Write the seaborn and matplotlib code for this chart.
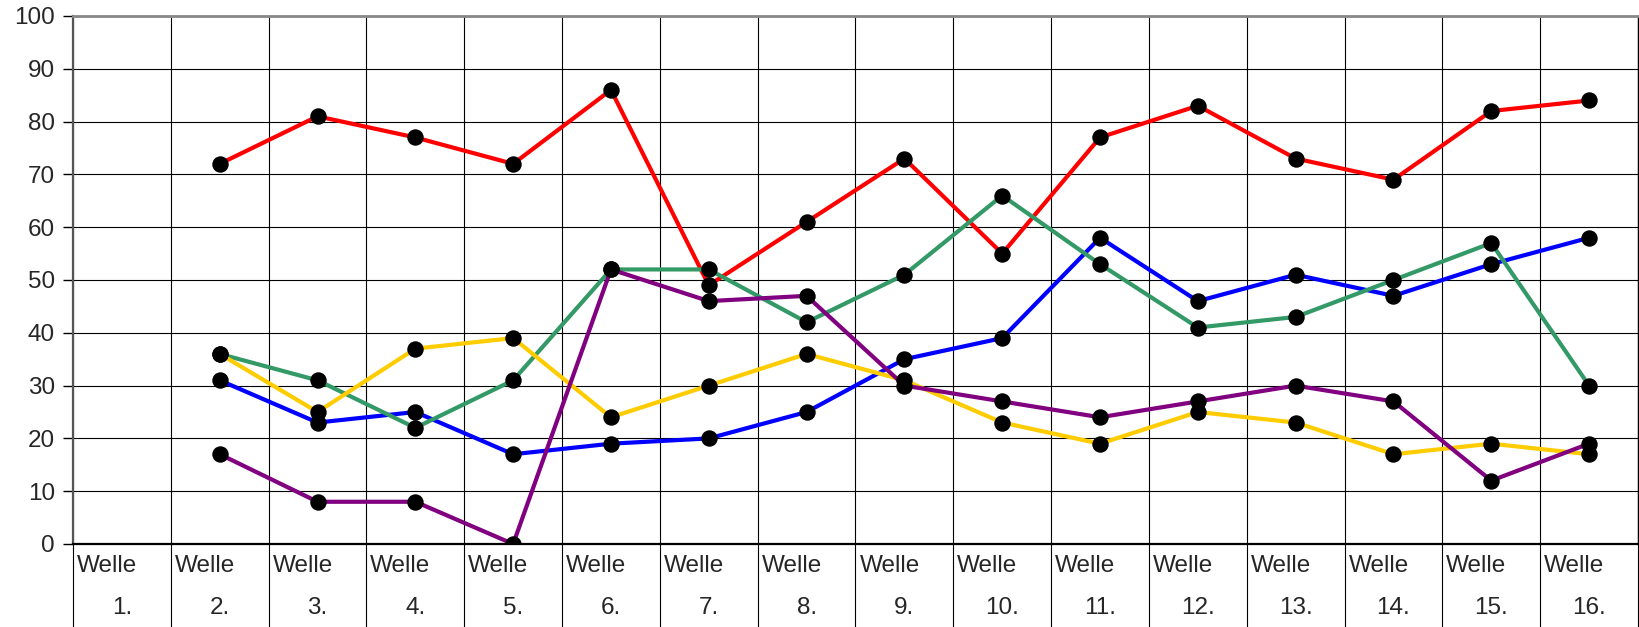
import seaborn as sns
import pandas as pd
import numpy as np
import matplotlib.pyplot as plt
from matplotlib.transforms import blended_transform_factory

waves = ["Welle 1.", "Welle 2.", "Welle 3.", "Welle 4.", "Welle 5.", "Welle 6.",
         "Welle 7.", "Welle 8.", "Welle 9.", "Welle 10.", "Welle 11.", "Welle 12.",
         "Welle 13.", "Welle 14.", "Welle 15.", "Welle 16."]

# no values for Welle 1., series start at Welle 2.
red = [72, 81, 77, 72, 86, 49, 61, 73, 55, 77, 83, 73, 69, 82, 84]
blue = [31, 23, 25, 17, 19, 20, 25, 35, 39, 58, 46, 51, 47, 53, 58]
green = [36, 31, 22, 31, 52, 52, 42, 51, 66, 53, 41, 43, 50, 57, 30]
yellow = [36, 25, 37, 39, 24, 30, 36, 31, 23, 19, 25, 23, 17, 19, 17]
purple = [17, 8, 8, 0, 52, 46, 47, 30, 27, 24, 27, 30, 27, 12, 19]

series = {"red": red, "blue": blue, "green": green, "yellow": yellow, "purple": purple}
colors = {"red": "#FF0000", "blue": "#0000FF", "green": "#339966",
          "yellow": "#FFCC00", "purple": "#800080"}

rows = []
for name, vals in series.items():
    for i, v in enumerate(vals):
        rows.append({"pos": i + 1, "welle": waves[i + 1], "serie": name, "wert": v})
df = pd.DataFrame(rows)

sns.set_style("white")
plt.rcParams['font.family'] = ['Liberation Sans', 'DejaVu Sans']

fig = plt.figure(figsize=(16.4, 6.27), dpi=100)
ax = fig.add_axes([73 / 1640, 1 - 544 / 627, 1565 / 1640, 528 / 627])

# grid first
for y in range(0, 101, 10):
    ax.axhline(y, color="black", lw=0.8, zorder=0)
for k in range(len(waves) + 1):
    ax.axvline(k - 0.5, color="black", lw=0.8, zorder=0)

sns.lineplot(data=df, x="pos", y="wert", hue="serie", palette=colors,
             sort=False, lw=3, legend=False, ax=ax, zorder=2)
sns.scatterplot(data=df, x="pos", y="wert", color="black", s=140,
                edgecolor="black", linewidth=0, legend=False, ax=ax, zorder=3)

ax.set_xlim(-0.5, len(waves) - 0.5)
ax.set_ylim(0, 100)
ax.set_yticks(range(0, 101, 10))
ax.set_xticks([])
ax.set_xlabel("")
ax.set_ylabel("")
ax.tick_params(axis="y", left=True, length=7, width=1, pad=6, labelsize=17.5,
               color="black")

for side in ["left", "right", "bottom", "top"]:
    ax.spines[side].set_color("black")
    ax.spines[side].set_linewidth(1)
ax.spines["left"].set_color("#555555")
ax.spines["left"].set_linewidth(1.6)
ax.spines["top"].set_color("#888888")
ax.spines["top"].set_linewidth(2)
ax.spines["bottom"].set_linewidth(1.6)

# table-like category labels below the axis
tr = blended_transform_factory(ax.transData, ax.transAxes)
for k in range(len(waves) + 1):
    ax.plot([k - 0.5, k - 0.5], [0, -0.2], color="black", lw=0.8,
            transform=tr, clip_on=False)
for i, w in enumerate(waves):
    word, num = w.split(" ")
    ax.text(i - 0.46, -0.042, word, transform=tr, ha="left", va="center",
            fontsize=17.5)
    ax.text(i, -0.121, num, transform=tr, ha="center", va="center",
            fontsize=17.5)

fig.savefig("out.png", dpi=100)
